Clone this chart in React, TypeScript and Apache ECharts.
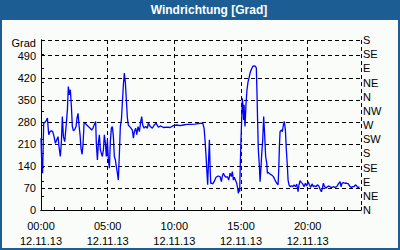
import React, { useEffect, useRef } from "react";
import * as echarts from "echarts";

const chartTitle = "Windrichtung [Grad]";
const unitLabel = "Grad";
const dateLabel = "12.11.13";
const compassLabels = ["N", "NE", "E", "SE", "S", "SW", "W", "NW", "N", "NE", "E", "SE", "S"];

// hours since 00:00 on 12.11.13
const hours = [
  0.0, 0.05, 0.12, 0.2, 0.28, 0.38, 0.48, 0.58, 0.68, 0.78, 0.88, 0.98, 1.08, 1.18, 1.28, 1.35, 1.45, 1.53, 1.6, 1.68,
  1.78, 1.88, 1.98, 2.05, 2.12, 2.2, 2.28, 2.35, 2.43, 2.53, 2.63, 2.7, 2.78, 2.85, 2.93, 3.0, 3.08, 3.15, 3.23, 3.33,
  3.43, 3.55, 3.68, 3.8, 3.9, 4.03, 4.1, 4.15, 4.23, 4.3, 4.38, 4.45, 4.53, 4.6, 4.68, 4.75, 4.83, 4.9, 4.98, 5.05,
  5.13, 5.2, 5.28, 5.35, 5.43, 5.5, 5.58, 5.65, 5.73, 5.8, 5.88, 5.95, 6.03, 6.1, 6.18, 6.25, 6.33, 6.4, 6.48, 6.55,
  6.65, 6.75, 6.85, 6.93, 7.0, 7.1, 7.18, 7.28, 7.38, 7.48, 7.55, 7.63, 7.73, 7.85, 7.98, 8.05, 8.2, 8.35, 8.5, 8.63,
  8.8, 8.98, 9.18, 9.43, 9.68, 9.93, 10.18, 10.43, 10.68, 10.93, 11.18, 11.55, 11.93, 12.13, 12.23, 12.3, 12.38, 12.45, 12.5, 12.55,
  12.63, 12.68, 12.73, 12.8, 12.88, 12.98, 13.13, 13.28, 13.43, 13.53, 13.6, 13.68, 13.78, 13.88, 13.98, 14.08, 14.18, 14.28, 14.35, 14.43,
  14.5, 14.58, 14.68, 14.75, 14.8, 14.85, 14.9, 14.95, 15.0, 15.05, 15.1, 15.15, 15.2, 15.23, 15.3, 15.38, 15.45, 15.53, 15.6, 15.68,
  15.78, 15.88, 15.98, 16.08, 16.15, 16.2, 16.25, 16.3, 16.38, 16.43, 16.48, 16.55, 16.63, 16.7, 16.78, 16.85, 16.93, 16.98, 17.05, 17.18,
  17.3, 17.43, 17.55, 17.68, 17.78, 17.83, 17.88, 17.93, 18.03, 18.1, 18.18, 18.25, 18.33, 18.4, 18.48, 18.53, 18.6, 18.68, 18.78, 18.88,
  18.98, 19.08, 19.18, 19.28, 19.35, 19.43, 19.53, 19.63, 19.73, 19.83, 19.93, 20.03, 20.13, 20.23, 20.33, 20.43, 20.53, 20.63, 20.73, 20.83,
  20.93, 21.03, 21.1, 21.18, 21.25, 21.38, 21.48, 21.58, 21.68, 21.8, 21.93, 22.05, 22.18, 22.3, 22.43, 22.5, 22.58, 22.68, 22.8, 22.93,
  23.05, 23.18, 23.28, 23.38, 23.48, 23.58, 23.68, 23.78, 23.88,
];

// wind direction in degrees
const directions = [
  228, 159, 117, 275, 278, 283, 292, 239, 249, 252, 249, 233, 212, 223, 233, 201, 170, 217, 297, 233,
  217, 265, 318, 392, 366, 382, 329, 265, 252, 256, 265, 292, 307, 270, 239, 196, 177, 207, 275, 275,
  270, 265, 260, 254, 260, 275, 281, 212, 159, 212, 239, 191, 180, 170, 191, 239, 212, 170, 223, 159,
  133, 217, 260, 265, 233, 170, 159, 138, 117, 95, 180, 265, 286, 339, 398, 435, 403, 350, 292, 270,
  265, 260, 254, 228, 249, 260, 239, 265, 249, 281, 297, 270, 260, 265, 260, 276, 265, 260, 270, 276,
  263, 267, 262, 263, 262, 268, 270, 268, 270, 272, 272, 273, 275, 276, 260, 223, 170, 117, 80, 138,
  223, 138, 85, 85, 83, 90, 104, 108, 106, 90, 108, 117, 108, 104, 106, 95, 117, 106, 122, 95,
  104, 95, 85, 69, 53, 69, 58, 148, 223, 286, 355, 329, 286, 334, 265, 340, 382, 408, 419, 435,
  447, 456, 458, 456, 451, 371, 276, 191, 138, 90, 122, 175, 223, 297, 233, 170, 148, 117, 119, 114,
  111, 106, 95, 85, 80, 127, 202, 249, 254, 249, 270, 281, 254, 191, 138, 95, 80, 74, 77, 74,
  80, 74, 82, 58, 80, 93, 87, 83, 74, 85, 76, 90, 80, 72, 83, 74, 77, 74, 80, 76,
  66, 58, 69, 85, 76, 69, 74, 76, 74, 71, 74, 72, 74, 83, 90, 74, 85, 87, 85, 85,
  83, 74, 72, 74, 74, 80, 76, 71, 74,
];

const FONT = "Liberation Sans";
const BLUE = "#1c5e94";

export default function App() {
  const ref = useRef<HTMLDivElement>(null);

  useEffect(() => {
    if (!ref.current) return;
    const chart = echarts.init(ref.current, null, { renderer: "svg" });
    const pad = (n: number) => (n < 10 ? "0" + n : String(n));
    const dashed = { color: "#000", width: 1, type: [4, 3] as any };
    chart.setOption({
      animation: false,
      backgroundColor: BLUE,
      graphic: [
        {
          type: "rect",
          z: -10,
          silent: true,
          shape: { x: 2, y: 20, width: 396, height: 228 },
          style: { fill: "#f9fcf9" },
        },
        {
          type: "text",
          z: 10,
          x: 209,
          y: 10,
          style: {
            text: chartTitle,
            fill: "#ffffff",
            font: `bold 12px "${FONT}"`,
            textAlign: "center",
            textVerticalAlign: "middle",
          },
        },
        {
          type: "text",
          z: 10,
          x: 36,
          y: 43,
          style: {
            text: unitLabel,
            fill: "#000",
            font: `11px "${FONT}"`,
            textAlign: "right",
            textVerticalAlign: "middle",
          },
        },
      ],
      grid: { left: 41, right: 39, top: 40, bottom: 40 },
      xAxis: [
        {
          type: "value",
          position: "bottom",
          min: 0,
          max: 24,
          interval: 1,
          axisLine: { show: true, lineStyle: { color: "#000", width: 1 } },
          axisTick: { show: true, inside: true, length: 3, lineStyle: { color: "#000" } },
          axisLabel: {
            margin: 8,
            color: "#000",
            fontFamily: FONT,
            fontSize: 11,
            lineHeight: 15,
            formatter: (v: number) => (v % 5 === 0 ? `${pad(v)}:00\n${dateLabel}` : ""),
          },
          splitLine: { show: false },
        },
        {
          type: "value",
          position: "top",
          min: 0,
          max: 24,
          interval: 5,
          axisLine: { show: true, lineStyle: { color: "#000", width: 1 } },
          axisTick: { show: false },
          axisLabel: { show: false },
          splitLine: { show: true, lineStyle: dashed },
        },
      ],
      yAxis: [
        {
          type: "value",
          position: "left",
          min: 0,
          max: 540,
          interval: 70,
          axisLine: { show: true, lineStyle: { color: "#000", width: 1 } },
          axisTick: { show: false },
          axisLabel: {
            margin: 5,
            color: "#000",
            fontFamily: FONT,
            fontSize: 11,
            formatter: (v: number) => (v <= 490 ? String(v) : ""),
          },
          splitLine: { show: true, lineStyle: dashed },
        },
        {
          type: "value",
          position: "right",
          min: 0,
          max: 540,
          interval: 45,
          axisLine: { show: true, lineStyle: { color: "#000", width: 1 } },
          axisTick: { show: true, length: 3, lineStyle: { color: "#000" } },
          axisLabel: {
            margin: 2,
            color: "#000",
            fontFamily: FONT,
            fontSize: 11,
            formatter: (v: number) => compassLabels[Math.round(v / 45)] ?? "",
          },
          splitLine: { show: false },
        },
      ],
      series: [
        {
          type: "line",
          xAxisIndex: 0,
          yAxisIndex: 0,
          data: hours.map((h, i) => [h, directions[i]]),
          showSymbol: false,
          symbol: "none",
          lineStyle: { color: "#0000ff", width: 1.3 },
          z: 5,
        },
      ],
    });
    return () => chart.dispose();
  }, []);

  return (
    <div
      ref={ref}
      style={{ position: "fixed", left: 0, top: 0, width: 400, height: 250 }}
    />
  );
}
